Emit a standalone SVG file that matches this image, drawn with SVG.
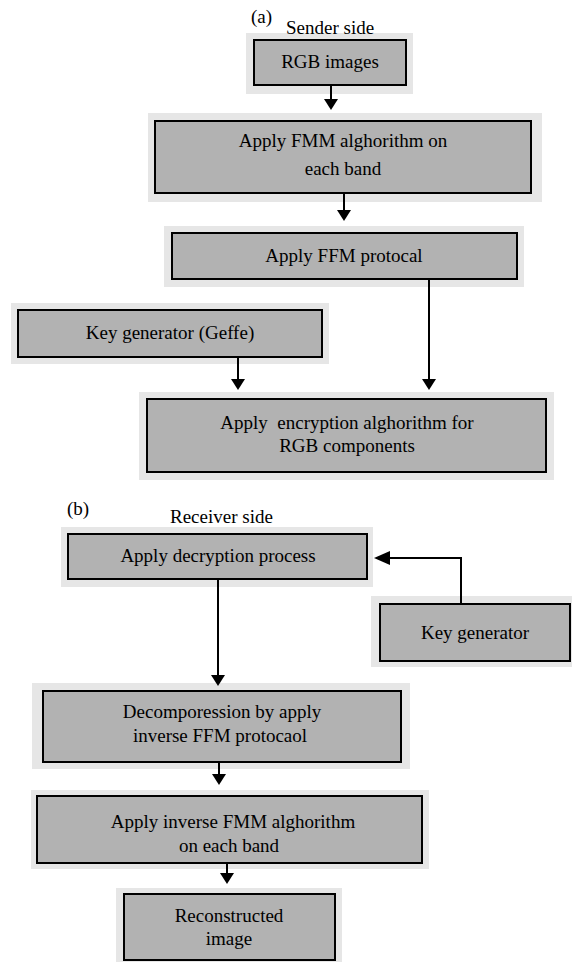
<svg xmlns="http://www.w3.org/2000/svg" width="572" height="962" viewBox="0 0 572 962">
<defs>
<style>
.halo{fill:#e6e6e6;stroke:none}
.box{fill:#b2b2b2;stroke:#000;stroke-width:2}
.t{font-family:"Liberation Serif","Times New Roman",serif;font-size:19px;fill:#000;text-anchor:middle;white-space:pre}
.lbl{font-family:"Liberation Serif","Times New Roman",serif;font-size:19px;fill:#000;white-space:pre}
.c{fill:none;stroke:#000;stroke-width:2}
</style>
<marker id="head" markerUnits="userSpaceOnUse" markerWidth="12" markerHeight="14" refX="1" refY="7" orient="auto" overflow="visible">
<path d="M0,0 L11,7 L0,14 Z" fill="#000"/>
</marker>
<marker id="headL" markerUnits="userSpaceOnUse" markerWidth="17" markerHeight="14" refX="1" refY="7" orient="auto" overflow="visible">
<path d="M0,0 L16,7 L0,14 Z" fill="#000"/>
</marker>
</defs>
<rect width="572" height="962" fill="#fff"/>

<text class="lbl" x="251" y="23">(a)</text>
<text class="lbl" x="67" y="515">(b)</text>

<g id="n_rgb">
<rect class="halo" x="246" y="33" width="167" height="61"/>
<rect class="box" x="254" y="40" width="152" height="45"/>
<text class="t" x="330" y="68">RGB images</text>
</g>
<text class="lbl" x="286" y="34">Sender side</text>

<g id="n_fmm">
<rect class="halo" x="148" y="113" width="394" height="89"/>
<rect class="box" x="155" y="121" width="376" height="72"/>
<text class="t" x="343" y="147">Apply FMM alghorithm on</text>
<text class="t" x="343" y="175">each band</text>
</g>

<g id="n_ffm">
<rect class="halo" x="164" y="226" width="360" height="61"/>
<rect class="box" x="172" y="233" width="345" height="46"/>
<text class="t" x="344" y="262">Apply FFM protocal</text>
</g>

<g id="n_keygeffe">
<rect class="halo" x="11" y="303" width="318" height="61"/>
<rect class="box" x="18" y="310" width="304" height="47"/>
<text class="t" x="170" y="339">Key generator (Geffe)</text>
</g>

<g id="n_enc">
<rect class="halo" x="139" y="392" width="415" height="88"/>
<rect class="box" x="147" y="399" width="399" height="73"/>
<text class="t" x="347" y="429">Apply  encryption alghorithm for</text>
<text class="t" x="347" y="452">RGB components</text>
</g>

<text class="lbl" x="170" y="523">Receiver side</text>

<g id="n_dec">
<rect class="halo" x="61" y="527" width="312" height="60"/>
<rect class="box" x="68" y="534" width="299" height="45"/>
<text class="t" x="218" y="562">Apply decryption process</text>
</g>

<g id="n_key">
<rect class="halo" x="371" y="596" width="201" height="71"/>
<rect class="box" x="380" y="604" width="190" height="57"/>
<text class="t" x="475" y="639">Key generator</text>
</g>

<g id="n_decomp">
<rect class="halo" x="32" y="683" width="378" height="86"/>
<rect class="box" x="43" y="691" width="358" height="71"/>
<text class="t" x="222" y="718">Decomporession by apply</text>
<text class="t" x="220" y="742">inverse FFM protocaol</text>
</g>

<g id="n_invfmm">
<rect class="halo" x="31" y="790" width="398" height="79"/>
<rect class="box" x="37" y="796" width="385" height="67"/>
<text class="t" x="233" y="828">Apply inverse FMM alghorithm</text>
<text class="t" x="229" y="852">on each band</text>
</g>

<g id="n_recon">
<rect class="halo" x="116" y="888" width="226" height="74"/>
<rect class="box" x="124" y="894" width="211" height="66"/>
<text class="t" x="229" y="922">Reconstructed</text>
<text class="t" x="229" y="945">image</text>
</g>

<g id="connectors">
<path class="c" d="M331,85 V100" marker-end="url(#head)"/>
<path class="c" d="M344,193 V211" marker-end="url(#head)"/>
<path class="c" d="M429,279 V380" marker-end="url(#head)"/>
<path class="c" d="M238,357 V380" marker-end="url(#head)"/>
<path class="c" d="M218,579 V676" marker-end="url(#head)"/>
<path class="c" d="M461,604 V558 H389" marker-end="url(#headL)"/>
<path class="c" d="M219,762 V775" marker-end="url(#head)"/>
<path class="c" d="M227,863 V874" marker-end="url(#head)"/>
</g>
</svg>
